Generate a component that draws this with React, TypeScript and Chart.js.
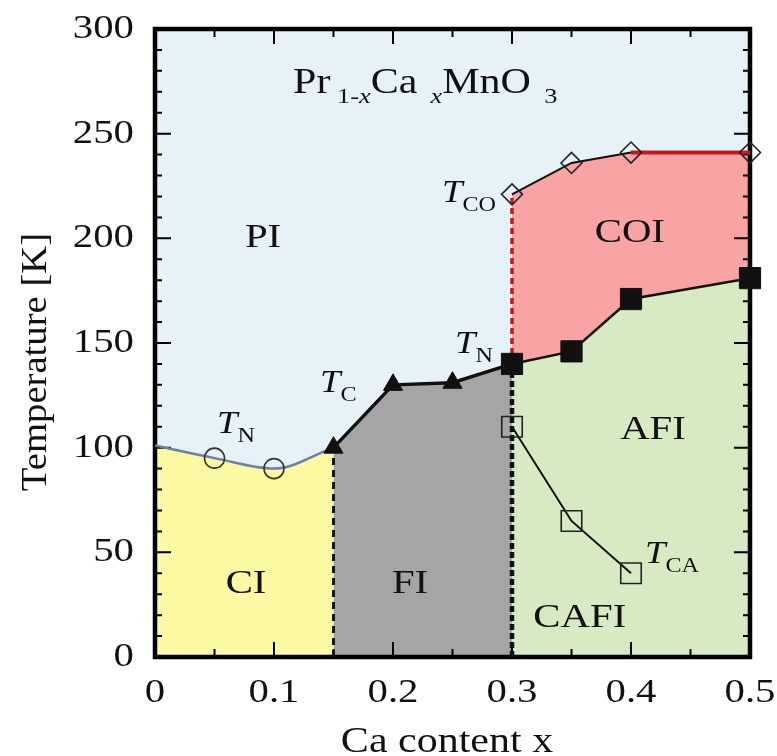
import React, { useEffect, useRef } from 'react';
import { Chart, registerables } from 'chart.js';

Chart.register(...registerables);

const FONT = '"Liberation Serif", "Times New Roman", serif';
const SX = 1.2; // horizontal text stretch

// ---- transition temperatures (Ca content x, temperature in K) ----
const ciEdgeX = [0];
const ciEdgeT = [101];
const tnCiX = [0.05, 0.1];
const tnCiT = [95, 90];
const tcX = [0.15, 0.2, 0.25];
const tcT = [100, 130, 131];
const tnAfX = [0.3, 0.35, 0.4, 0.5];
const tnAfT = [140, 146, 171, 181];
const tcoX = [0.3, 0.35, 0.4, 0.5];
const tcoT = [221, 236, 241, 241];
const tcaX = [0.3, 0.35, 0.4];
const tcaT = [110, 65, 40];

// ---- axis ticks ----
const xTickValues = [0, 0.1, 0.2, 0.3, 0.4, 0.5];
const xTickLabels = ['0', '0.1', '0.2', '0.3', '0.4', '0.5'];
const xMinorValues = [0.05, 0.15, 0.25, 0.35, 0.45];
const yTickValues = [0, 50, 100, 150, 200, 250, 300];
const yTickLabels = ['0', '50', '100', '150', '200', '250', '300'];
const yMinorValues = [10, 20, 30, 40, 60, 70, 80, 90, 110, 120, 130, 140, 160, 170, 180, 190, 210, 220, 230, 240, 260, 270, 280, 290];

// ---- phase names and where they are written (data units) ----
const phaseNames = ['PI', 'COI', 'CI', 'FI', 'AFI', 'CAFI'];
const phaseAnchors = [
  { x: 0.0908, t: 200 },
  { x: 0.399, t: 202.5 },
  { x: 0.0765, t: 35 },
  { x: 0.2143, t: 35 },
  { x: 0.4185, t: 108.5 },
  { x: 0.357, t: 18.5 },
];

// ---- transition-temperature symbols: T with subscript ----
const transSubs = ['N', 'C', 'N', 'CO', 'CA'];
const transAnchors = [
  { x: 0.0521, t: 107 },
  { x: 0.1387, t: 126.6 },
  { x: 0.2521, t: 145.2 },
  { x: 0.2412, t: 217.4 },
  { x: 0.4118, t: 44.9 },
];
const formulaAnchor = { x: 0.116, t: 269.4 };

const COLORS = {
  pi: '#e7f2f8',
  ci: '#fbfaa2',
  fi: '#a5a5a5',
  afi: '#d7eac4',
  coi: '#f9a4a4',
  red: '#c8161d',
};

const pts = (xs: number[], ts: number[]) => xs.map((x, i) => ({ x, y: ts[i] }));

type Run = { t: string; size: number; italic?: boolean; dy?: number };

function drawRuns(
  ctx: CanvasRenderingContext2D,
  runs: Run[],
  x: number,
  y: number,
  align: 'left' | 'center' | 'right',
  baseline: CanvasTextBaseline,
  sx: number = SX,
) {
  const fontOf = (r: Run) => `${r.italic ? 'italic ' : ''}${r.size}px ${FONT}`;
  let total = 0;
  const widths = runs.map((r) => {
    ctx.font = fontOf(r);
    const w = ctx.measureText(r.t).width * sx;
    total += w;
    return w;
  });
  let cx = align === 'left' ? x : align === 'center' ? x - total / 2 : x - total;
  ctx.textAlign = 'left';
  ctx.textBaseline = baseline;
  runs.forEach((r, i) => {
    ctx.save();
    ctx.font = fontOf(r);
    ctx.translate(cx, y + (r.dy || 0));
    ctx.scale(sx, 1);
    ctx.fillText(r.t, 0, 0);
    ctx.restore();
    cx += widths[i];
  });
}

const decorations = {
  id: 'phaseDecorations',
  beforeDraw(chart: any) {
    const { ctx, chartArea: a } = chart;
    ctx.save();
    ctx.fillStyle = '#ffffff';
    ctx.fillRect(0, 0, chart.width, chart.height);
    ctx.fillStyle = COLORS.pi;
    ctx.fillRect(a.left, a.top, a.right - a.left, a.bottom - a.top);
    ctx.restore();
  },
  afterDatasetDraw(chart: any, args: any) {
    if (chart.data.datasets[args.index].label !== 'COI region') return;
    const { ctx, chartArea: a, scales } = chart;
    const xs = scales.x;
    const ys = scales.y;
    ctx.save();
    ctx.strokeStyle = '#000';
    ctx.lineCap = 'butt';
    ctx.lineWidth = 2;
    const tickX = (v: number, len: number) => {
      const px = xs.getPixelForValue(v);
      ctx.beginPath();
      ctx.moveTo(px, a.bottom);
      ctx.lineTo(px, a.bottom - len);
      ctx.moveTo(px, a.top);
      ctx.lineTo(px, a.top + len);
      ctx.stroke();
    };
    const tickY = (v: number, len: number) => {
      const py = ys.getPixelForValue(v);
      ctx.beginPath();
      ctx.moveTo(a.left, py);
      ctx.lineTo(a.left + len, py);
      ctx.moveTo(a.right, py);
      ctx.lineTo(a.right - len, py);
      ctx.stroke();
    };
    xTickValues.forEach((v) => tickX(v, 15));
    xMinorValues.forEach((v) => tickX(v, 8));
    yTickValues.forEach((v) => tickY(v, 16));
    yMinorValues.forEach((v) => tickY(v, 7));
    ctx.lineWidth = 4.5;
    ctx.strokeRect(a.left, a.top, a.right - a.left, a.bottom - a.top);
    ctx.restore();
  },
  afterDraw(chart: any) {
    const { ctx, chartArea: a, scales } = chart;
    const xs = scales.x;
    const ys = scales.y;
    ctx.save();
    ctx.fillStyle = '#111';

    // tick labels
    xTickValues.forEach((v, i) => {
      drawRuns(ctx, [{ t: xTickLabels[i], size: 34 }], xs.getPixelForValue(v), a.bottom + 36, 'center', 'middle');
    });
    yTickValues.forEach((v, i) => {
      drawRuns(ctx, [{ t: yTickLabels[i], size: 34 }], a.left - 21, ys.getPixelForValue(v), 'right', 'middle');
    });

    // axis titles
    drawRuns(ctx, [{ t: 'Ca content x', size: 35 }], 447, 752, 'center', 'alphabetic');
    ctx.save();
    ctx.translate(46, 362);
    ctx.rotate(-Math.PI / 2);
    drawRuns(ctx, [{ t: 'Temperature [K]', size: 36 }], 0, 0, 'center', 'alphabetic', 1.075);
    ctx.restore();

    // compound formula
    drawRuns(
      ctx,
      [
        { t: 'Pr', size: 35 },
        { t: ' 1-', size: 22, dy: 10 },
        { t: 'x', size: 22, italic: true, dy: 10 },
        { t: 'Ca', size: 35 },
        { t: '  ', size: 22, dy: 10 },
        { t: 'x', size: 22, italic: true, dy: 10 },
        { t: 'MnO', size: 35 },
        { t: '  3', size: 22, dy: 10 },
      ],
      xs.getPixelForValue(formulaAnchor.x),
      ys.getPixelForValue(formulaAnchor.t),
      'left',
      'alphabetic',
    );

    // phase names
    phaseNames.forEach((name, i) => {
      const p = phaseAnchors[i];
      drawRuns(ctx, [{ t: name, size: 34 }], xs.getPixelForValue(p.x), ys.getPixelForValue(p.t), 'center', 'middle');
    });

    // transition temperature symbols
    transSubs.forEach((sub, i) => {
      const p = transAnchors[i];
      drawRuns(
        ctx,
        [
          { t: 'T', size: 32, italic: true },
          { t: sub, size: 21, dy: 9 },
        ],
        xs.getPixelForValue(p.x),
        ys.getPixelForValue(p.t),
        'left',
        'alphabetic',
        1.15,
      );
    });
    ctx.restore();
  },
};

export default function App() {
  const ref = useRef<HTMLCanvasElement | null>(null);

  useEffect(() => {
    if (!ref.current) return;
    const ciBoundary = [...pts(ciEdgeX, ciEdgeT), ...pts(tnCiX, tnCiT), { x: tcX[0], y: tcT[0] }];
    const fiBoundary = [...pts(tcX, tcT), { x: tnAfX[0], y: tnAfT[0] }];
    const afBoundary = pts(tnAfX, tnAfT);
    const coBoundary = pts(tcoX, tcoT);
    const caBoundary = pts(tcaX, tcaT);
    const x015 = tcX[0];
    const x030 = tnAfX[0];

    const marker = (label: string, data: any[], style: string, radius: number, filled: boolean, color = '#111') => ({
      label,
      data,
      showLine: false,
      pointStyle: style,
      pointRadius: radius,
      pointBackgroundColor: filled ? color : 'rgba(0,0,0,0)',
      pointBorderColor: color,
      pointBorderWidth: filled ? 1 : 1.6,
      clip: false,
    });

    const line = (label: string, data: any[], color: string, width: number, extra: any = {}) => ({
      label,
      data,
      borderColor: color,
      borderWidth: width,
      pointRadius: 0,
      fill: false,
      ...extra,
    });

    const region = (label: string, data: any[], color: string, fill: any, extra: any = {}) => ({
      label,
      data,
      borderWidth: 0,
      borderColor: 'rgba(0,0,0,0)',
      backgroundColor: color,
      pointRadius: 0,
      fill,
      ...extra,
    });

    const chart = new Chart(ref.current, {
      type: 'line',
      data: {
        datasets: [
          marker('T_N (CI)', pts(tnCiX, tnCiT), 'circle', 10, false, '#333'),
          marker('T_C', pts(tcX, tcT), 'triangle', 11, true),
          marker('T_N (AFI)', afBoundary, 'rect', 15, true),
          marker('T_CO', coBoundary, 'rectRot', 10.5, false, '#222'),
          marker('T_CA', caBoundary, 'rect', 14.5, false, '#222'),
          line('CI boundary', ciBoundary, '#6f80a8', 2.5, { cubicInterpolationMode: 'monotone' }),
          line('FI boundary', fiBoundary, '#111', 3.5),
          line('AFI boundary', afBoundary, '#111', 2.5),
          line('COI boundary', coBoundary, '#111', 2, {
            segment: {
              borderColor: (c: any) => (c.p0.parsed.x >= 0.4 ? COLORS.red : '#111'),
              borderWidth: (c: any) => (c.p0.parsed.x >= 0.4 ? 4 : 2),
            },
          }),
          line('CA boundary', caBoundary, '#111', 2),
          line('CI/FI border', [{ x: x015, y: 0 }, { x: x015, y: tcT[0] }], '#111', 3, { borderDash: [7, 5] }),
          line('FI/AFI border', [{ x: x030, y: 0 }, { x: x030, y: tnAfT[0] }], '#111', 4.5, { borderDash: [6, 3] }),
          line('PI/COI border', [{ x: x030, y: tnAfT[0] }, { x: x030, y: tcoT[0] }], COLORS.red, 3.5, { borderDash: [6, 4] }),
          region('COI region', coBoundary, COLORS.coi, '+1'),
          region('AFI region', afBoundary, COLORS.afi, 'origin'),
          region('FI region', fiBoundary, COLORS.fi, 'origin'),
          region('CI region', ciBoundary, COLORS.ci, 'origin', { cubicInterpolationMode: 'monotone' }),
        ] as any,
      },
      options: {
        animation: false,
        responsive: false,
        maintainAspectRatio: false,
        devicePixelRatio: 1,
        layout: { padding: { left: 155, right: 27, top: 29, bottom: 99 } },
        scales: {
          x: { type: 'linear', min: 0, max: 0.5, display: false },
          y: { type: 'linear', min: 0, max: 300, display: false },
        },
        plugins: {
          legend: { display: false },
          tooltip: { enabled: false },
        },
        events: [],
      } as any,
      plugins: [decorations],
    });
    return () => chart.destroy();
  }, []);

  return (
    <canvas
      ref={ref}
      width={777}
      height={756}
      style={{ position: 'fixed', left: 0, top: 0, width: 777, height: 756 }}
    />
  );
}
